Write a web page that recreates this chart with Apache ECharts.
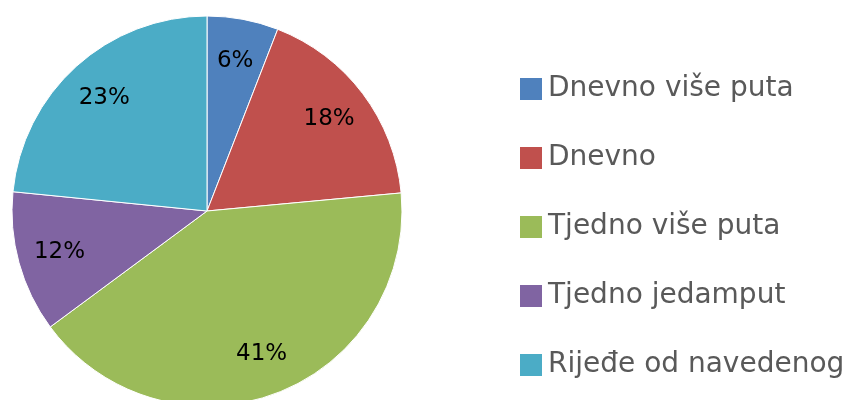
<!DOCTYPE html>
<html>
<head>
<meta charset="utf-8">
<script src="https://cdn.jsdelivr.net/npm/echarts@6/dist/echarts.min.js"></script>
<style>
    html, body { margin: 0; padding: 0; background: #fff; }
    #chart { width: 847px; height: 400px; }
</style>
</head>
<body>
<div id="chart"></div>
<script>
    const categories = ['Dnevno više puta', 'Dnevno', 'Tjedno više puta', 'Tjedno jedamput', 'Rijeđe od navedenog'];
    // shares (labels show them rounded)
    const shares = [5.9, 17.6, 41.3, 11.7, 23.4];
    const colors = ['#4F81BD', '#C0504D', '#9BBB59', '#8064A2', '#4BACC6'];

    const pieData = categories.map((name, i) => ({ name: name, value: shares[i] }));

    const chart = echarts.init(document.getElementById('chart'));
    const option = {
        animation: false,
        color: colors,
        legend: {
            orient: 'vertical',
            left: 518,
            top: 74,
            padding: 0,
            data: categories,
            icon: 'rect',
            itemWidth: 24,
            itemHeight: 24,
            itemGap: 39,
            textStyle: {
                fontFamily: 'DejaVu Sans',
                fontSize: 28,
                lineHeight: 30,
                color: '#595959'
            }
        },
        series: [
            {
                // filled slices
                type: 'pie',
                center: [207, 211],
                radius: [0, 195],
                startAngle: 90,
                clockwise: true,
                silent: true,
                label: { show: false },
                labelLine: { show: false },
                itemStyle: { borderColor: '#ffffff', borderWidth: 1 },
                data: pieData
            },
            {
                // transparent ring that only carries the percentage labels
                type: 'pie',
                center: [207, 211],
                radius: [106, 194],
                startAngle: 90,
                clockwise: true,
                silent: true,
                itemStyle: { color: 'rgba(0,0,0,0)' },
                label: {
                    show: true,
                    position: 'inside',
                    formatter: p => Math.round(p.value) + '%',
                    fontFamily: 'DejaVu Sans',
                    fontSize: 23,
                    color: '#000'
                },
                labelLine: { show: false },
                data: pieData
            }
        ]
    };
    chart.setOption(option);
</script>
</body>
</html>
